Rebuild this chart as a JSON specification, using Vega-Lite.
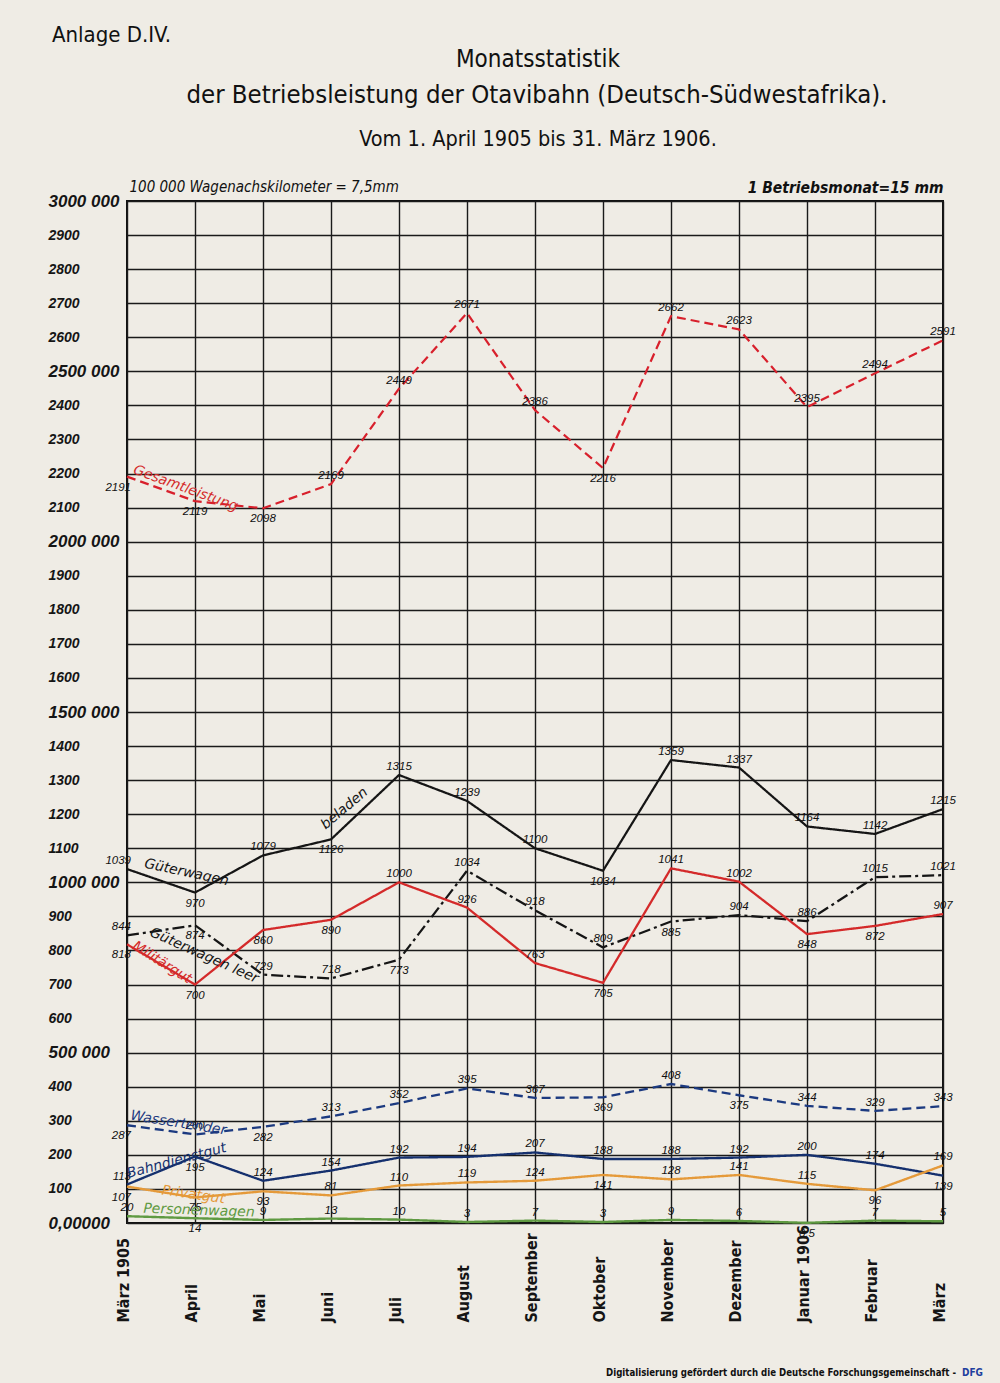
{
  "$schema": "https://vega.github.io/schema/vega-lite/v6.json",
  "width": 816,
  "height": 1022,
  "autosize": {"type": "none"},
  "padding": {"left": 127, "top": 201, "right": 57, "bottom": 160},
  "background": "#efece5",
  "config": {
    "view": {"stroke": "#111111", "strokeWidth": 2},
    "font": "Liberation Sans"
  },
  "data": {
    "values": [
      {"month": "März 1905", "Gesamtleistung": 2191, "Güterwagen beladen": 1039, "Güterwagen leer": 844, "Militärgut": 818, "Wassertender": 287, "Bahndienstgut": 113, "Privatgut": 107, "Personenwagen": 20},
      {"month": "April", "Gesamtleistung": 2119, "Güterwagen beladen": 970, "Güterwagen leer": 874, "Militärgut": 700, "Wassertender": 260, "Bahndienstgut": 195, "Privatgut": 75, "Personenwagen": 14},
      {"month": "Mai", "Gesamtleistung": 2098, "Güterwagen beladen": 1079, "Güterwagen leer": 729, "Militärgut": 860, "Wassertender": 282, "Bahndienstgut": 124, "Privatgut": 93, "Personenwagen": 9},
      {"month": "Juni", "Gesamtleistung": 2169, "Güterwagen beladen": 1126, "Güterwagen leer": 718, "Militärgut": 890, "Wassertender": 313, "Bahndienstgut": 154, "Privatgut": 81, "Personenwagen": 13},
      {"month": "Juli", "Gesamtleistung": 2449, "Güterwagen beladen": 1315, "Güterwagen leer": 773, "Militärgut": 1000, "Wassertender": 352, "Bahndienstgut": 192, "Privatgut": 110, "Personenwagen": 10},
      {"month": "August", "Gesamtleistung": 2671, "Güterwagen beladen": 1239, "Güterwagen leer": 1034, "Militärgut": 926, "Wassertender": 395, "Bahndienstgut": 194, "Privatgut": 119, "Personenwagen": 3},
      {"month": "September", "Gesamtleistung": 2386, "Güterwagen beladen": 1100, "Güterwagen leer": 918, "Militärgut": 763, "Wassertender": 367, "Bahndienstgut": 207, "Privatgut": 124, "Personenwagen": 7},
      {"month": "Oktober", "Gesamtleistung": 2216, "Güterwagen beladen": 1034, "Güterwagen leer": 809, "Militärgut": 705, "Wassertender": 369, "Bahndienstgut": 188, "Privatgut": 141, "Personenwagen": 3},
      {"month": "November", "Gesamtleistung": 2662, "Güterwagen beladen": 1359, "Güterwagen leer": 885, "Militärgut": 1041, "Wassertender": 408, "Bahndienstgut": 188, "Privatgut": 128, "Personenwagen": 9},
      {"month": "Dezember", "Gesamtleistung": 2623, "Güterwagen beladen": 1337, "Güterwagen leer": 904, "Militärgut": 1002, "Wassertender": 375, "Bahndienstgut": 192, "Privatgut": 141, "Personenwagen": 6},
      {"month": "Januar 1906", "Gesamtleistung": 2395, "Güterwagen beladen": 1164, "Güterwagen leer": 886, "Militärgut": 848, "Wassertender": 344, "Bahndienstgut": 200, "Privatgut": 115, "Personenwagen": 0.5},
      {"month": "Februar", "Gesamtleistung": 2494, "Güterwagen beladen": 1142, "Güterwagen leer": 1015, "Militärgut": 872, "Wassertender": 329, "Bahndienstgut": 174, "Privatgut": 96, "Personenwagen": 7},
      {"month": "März", "Gesamtleistung": 2591, "Güterwagen beladen": 1215, "Güterwagen leer": 1021, "Militärgut": 907, "Wassertender": 343, "Bahndienstgut": 139, "Privatgut": 169, "Personenwagen": 5}
    ]
  },
  "transform": [
    {"fold": ["Gesamtleistung", "Güterwagen beladen", "Güterwagen leer", "Militärgut", "Wassertender", "Bahndienstgut", "Privatgut", "Personenwagen"], "as": ["series", "value"]},
    {"calculate": "indexof(['Gesamtleistung|März 1905','Gesamtleistung|April','Gesamtleistung|Mai','Gesamtleistung|Oktober','Güterwagen beladen|April','Güterwagen beladen|Juni','Güterwagen beladen|Oktober','Güterwagen leer|April','Güterwagen leer|Juli','Güterwagen leer|November','Militärgut|März 1905','Militärgut|April','Militärgut|Mai','Militärgut|Juni','Militärgut|Oktober','Militärgut|Januar 1906','Militärgut|Februar','Wassertender|März 1905','Wassertender|Mai','Wassertender|Oktober','Wassertender|Dezember','Bahndienstgut|April','Bahndienstgut|März','Privatgut|März 1905','Privatgut|April','Privatgut|Mai','Privatgut|Oktober','Privatgut|Februar','Personenwagen|April','Personenwagen|Januar 1906'], datum.series + '|' + datum.month) >= 0", "as": "below"},
    {"calculate": "datum.month == 'März 1905' && datum.series != 'Personenwagen'", "as": "first"},
    {"calculate": "datum.month == 'April' && datum.series == 'Gesamtleistung'", "as": "one"}
  ],
  "encoding": {
    "x": {
      "field": "month",
      "type": "ordinal",
      "sort": ["März 1905", "April", "Mai", "Juni", "Juli", "August", "September", "Oktober", "November", "Dezember", "Januar 1906", "Februar", "März"],
      "scale": {"type": "point", "padding": 0},
      "axis": {
        "orient": "bottom",
        "domain": false,
        "ticks": false,
        "grid": true,
        "gridColor": "#1a1a1a",
        "gridWidth": 1.4,
        "labelAngle": -90,
        "labelAlign": "left",
        "labelBaseline": "middle",
        "labelPadding": 99,
        "labelOffset": -4,
        "labelFont": "DejaVu Sans Condensed, Liberation Sans",
        "labelFontWeight": "bold",
        "labelFontSize": 16,
        "labelColor": "#151515",
        "title": "1 Betriebsmonat=15 mm",
        "titleX": 816,
        "titleY": -1028,
        "titleAlign": "right",
        "titleBaseline": "bottom",
        "titleAngle": 0,
        "titleFont": "DejaVu Sans Condensed, Liberation Sans",
        "titleFontStyle": "italic",
        "titleFontWeight": "bold",
        "titleFontSize": 15.5,
        "titleColor": "#111111"
      }
    },
    "y": {
      "field": "value",
      "type": "quantitative",
      "scale": {"domain": [0, 3000], "nice": false},
      "axis": {
        "values": [0, 100, 200, 300, 400, 500, 600, 700, 800, 900, 1000, 1100, 1200, 1300, 1400, 1500, 1600, 1700, 1800, 1900, 2000, 2100, 2200, 2300, 2400, 2500, 2600, 2700, 2800, 2900, 3000],
        "domain": false,
        "ticks": false,
        "grid": true,
        "gridColor": "#1a1a1a",
        "gridWidth": 1.4,
        "labelAlign": "left",
        "labelBaseline": "middle",
        "labelPadding": 79,
        "labelExpr": "datum.value == 0 ? '0,00000' : (datum.value % 500 == 0 ? datum.value + ' 000' : '' + datum.value)",
        "labelFontSize": {"condition": {"test": "datum.value % 500 == 0", "value": 17}, "value": 14},
        "labelFontStyle": "italic",
        "labelFontWeight": "bold",
        "labelColor": "#151515",
        "title": "100 000 Wagenachskilometer = 7,5mm",
        "titleAngle": 0,
        "titleX": 2,
        "titleY": -7,
        "titleAlign": "left",
        "titleBaseline": "bottom",
        "titleFont": "DejaVu Sans Condensed, Liberation Sans",
        "titleFontStyle": "italic",
        "titleFontWeight": "normal",
        "titleFontSize": 15,
        "titleColor": "#111111"
      }
    }
  },
  "layer": [
    {
      "mark": {"type": "line", "strokeJoin": "round"},
      "encoding": {
        "color": {
          "field": "series",
          "type": "nominal",
          "scale": {
            "domain": ["Gesamtleistung", "Güterwagen beladen", "Güterwagen leer", "Militärgut", "Wassertender", "Bahndienstgut", "Privatgut", "Personenwagen"],
            "range": ["#d8202c", "#151515", "#151515", "#d42a2a", "#1c3a80", "#15306e", "#e59a3a", "#5f9a42"]
          },
          "legend": null
        },
        "strokeDash": {
          "field": "series",
          "type": "nominal",
          "scale": {
            "domain": ["Gesamtleistung", "Güterwagen beladen", "Güterwagen leer", "Militärgut", "Wassertender", "Bahndienstgut", "Privatgut", "Personenwagen"],
            "range": [[9, 5], [1, 0], [12, 4, 3, 4], [1, 0], [9, 5], [1, 0], [1, 0], [1, 0]]
          },
          "legend": null
        },
        "strokeWidth": {
          "field": "series",
          "type": "nominal",
          "scale": {
            "domain": ["Gesamtleistung", "Güterwagen beladen", "Güterwagen leer", "Militärgut", "Wassertender", "Bahndienstgut", "Privatgut", "Personenwagen"],
            "range": [2.2, 2.4, 2.4, 2, 2.2, 2.6, 3, 2]
          },
          "legend": null
        }
      }
    },
    {
      "transform": [{"filter": "!datum.below && !datum.first"}],
      "mark": {"type": "text", "dy": -8, "fontSize": 11.5, "fontStyle": "italic", "color": "#111111", "font": "Liberation Sans"},
      "encoding": {"text": {"field": "value", "type": "quantitative", "format": "~g"}}
    },
    {
      "transform": [{"filter": "datum.below && !datum.first"}],
      "mark": {"type": "text", "dy": 11, "fontSize": 11.5, "fontStyle": "italic", "color": "#111111", "font": "Liberation Sans"},
      "encoding": {"text": {"field": "value", "type": "quantitative", "format": "~g"}}
    },
    {
      "transform": [{"filter": "!datum.below && datum.first"}],
      "mark": {"type": "text", "align": "right", "dx": 4, "dy": -8, "fontSize": 11.5, "fontStyle": "italic", "color": "#111111", "font": "Liberation Sans"},
      "encoding": {"text": {"field": "value", "type": "quantitative", "format": "~g"}}
    },
    {
      "transform": [{"filter": "datum.below && datum.first"}],
      "mark": {"type": "text", "align": "right", "dx": 4, "dy": 11, "fontSize": 11.5, "fontStyle": "italic", "color": "#111111", "font": "Liberation Sans"},
      "encoding": {"text": {"field": "value", "type": "quantitative", "format": "~g"}}
    },
    {
      "transform": [{"filter": "datum.one"}],
      "mark": {"type": "text", "align": "left", "baseline": "bottom", "angle": 20, "dx": 4, "dy": -2, "fontSize": 14, "fontStyle": "italic", "color": "#d42a2a", "font": "DejaVu Sans"},
      "encoding": {"x": {"datum": "März 1905"}, "y": {"datum": 2191}, "text": {"value": "Gesamtleistung"}}
    },
    {
      "transform": [{"filter": "datum.one"}],
      "mark": {"type": "text", "align": "left", "baseline": "bottom", "angle": 12, "dx": 16, "dy": -2, "fontSize": 14, "fontStyle": "italic", "color": "#151515", "font": "DejaVu Sans"},
      "encoding": {"x": {"datum": "März 1905"}, "y": {"datum": 1039}, "text": {"value": "Güterwagen"}}
    },
    {
      "transform": [{"filter": "datum.one"}],
      "mark": {"type": "text", "align": "left", "baseline": "bottom", "angle": -40, "dx": 2, "dy": -8, "fontSize": 14, "fontStyle": "italic", "color": "#151515", "font": "DejaVu Sans"},
      "encoding": {"x": {"datum": "Juni"}, "y": {"datum": 1126}, "text": {"value": "beladen"}}
    },
    {
      "transform": [{"filter": "datum.one"}],
      "mark": {"type": "text", "align": "left", "baseline": "bottom", "angle": 24, "dx": 20, "dy": -6, "fontSize": 14, "fontStyle": "italic", "color": "#151515", "font": "DejaVu Sans"},
      "encoding": {"x": {"datum": "März 1905"}, "y": {"datum": 844}, "text": {"value": "Güterwagen leer"}}
    },
    {
      "transform": [{"filter": "datum.one"}],
      "mark": {"type": "text", "align": "left", "baseline": "middle", "angle": 32, "dx": 6, "dy": -3, "fontSize": 14, "fontStyle": "italic", "color": "#d42a2a", "font": "DejaVu Sans"},
      "encoding": {"x": {"datum": "März 1905"}, "y": {"datum": 818}, "text": {"value": "Militärgut"}}
    },
    {
      "transform": [{"filter": "datum.one"}],
      "mark": {"type": "text", "align": "left", "baseline": "bottom", "angle": 9, "dx": 2, "dy": -3, "fontSize": 14, "fontStyle": "italic", "color": "#1c3a80", "font": "DejaVu Sans"},
      "encoding": {"x": {"datum": "März 1905"}, "y": {"datum": 287}, "text": {"value": "Wassertender"}}
    },
    {
      "transform": [{"filter": "datum.one"}],
      "mark": {"type": "text", "align": "left", "baseline": "bottom", "angle": -15, "dx": 3, "dy": -3, "fontSize": 14, "fontStyle": "italic", "color": "#15306e", "font": "DejaVu Sans"},
      "encoding": {"x": {"datum": "März 1905"}, "y": {"datum": 113}, "text": {"value": "Bahndienstgut"}}
    },
    {
      "transform": [{"filter": "datum.one"}],
      "mark": {"type": "text", "align": "left", "baseline": "bottom", "angle": 8, "dx": 35, "dy": 6, "fontSize": 14, "fontStyle": "italic", "color": "#e59a3a", "font": "DejaVu Sans"},
      "encoding": {"x": {"datum": "März 1905"}, "y": {"datum": 107}, "text": {"value": "Privatgut"}}
    },
    {
      "transform": [{"filter": "datum.one"}],
      "mark": {"type": "text", "align": "left", "baseline": "bottom", "angle": 2, "dx": 16, "dy": -1, "fontSize": 14, "fontStyle": "italic", "color": "#5f9a42", "font": "DejaVu Sans"},
      "encoding": {"x": {"datum": "März 1905"}, "y": {"datum": 20}, "text": {"value": "Personenwagen"}}
    },
    {
      "transform": [{"filter": "datum.one"}],
      "mark": {"type": "text", "align": "left", "baseline": "alphabetic", "dx": -75, "dy": -159, "fontSize": 22, "color": "#111111", "font": "DejaVu Sans Condensed, Liberation Sans"},
      "encoding": {"x": {"datum": "März 1905"}, "y": {"datum": 3000}, "text": {"value": "Anlage D.IV."}}
    },
    {
      "transform": [{"filter": "datum.one"}],
      "mark": {"type": "text", "align": "center", "baseline": "alphabetic", "dx": 3, "dy": -134, "fontSize": 24, "color": "#111111", "font": "DejaVu Sans Condensed, Liberation Sans"},
      "encoding": {"x": {"datum": "September"}, "y": {"datum": 3000}, "text": {"value": "Monatsstatistik"}}
    },
    {
      "transform": [{"filter": "datum.one"}],
      "mark": {"type": "text", "align": "center", "baseline": "alphabetic", "dx": 2, "dy": -98, "fontSize": 25.5, "color": "#111111", "font": "DejaVu Sans Condensed, Liberation Sans"},
      "encoding": {"x": {"datum": "September"}, "y": {"datum": 3000}, "text": {"value": "der Betriebsleistung der Otavibahn (Deutsch-Südwestafrika)."}}
    },
    {
      "transform": [{"filter": "datum.one"}],
      "mark": {"type": "text", "align": "center", "baseline": "alphabetic", "dx": 3, "dy": -55, "fontSize": 21.5, "color": "#111111", "font": "DejaVu Sans Condensed, Liberation Sans"},
      "encoding": {"x": {"datum": "September"}, "y": {"datum": 3000}, "text": {"value": "Vom 1. April 1905 bis 31. März 1906."}}
    },
    {
      "transform": [{"filter": "datum.one"}],
      "mark": {"type": "text", "align": "right", "baseline": "alphabetic", "dx": 13, "dy": 153, "fontSize": 9.6, "fontWeight": "bold", "color": "#111111", "font": "DejaVu Sans Condensed, Liberation Sans"},
      "encoding": {"x": {"datum": "März"}, "y": {"datum": 0}, "text": {"value": "Digitalisierung gefördert durch die Deutsche Forschungsgemeinschaft -"}}
    },
    {
      "transform": [{"filter": "datum.one"}],
      "mark": {"type": "text", "align": "left", "baseline": "alphabetic", "dx": 19, "dy": 153, "fontSize": 10, "fontWeight": "bold", "color": "#1f3f9e", "font": "DejaVu Sans Condensed, Liberation Sans"},
      "encoding": {"x": {"datum": "März"}, "y": {"datum": 0}, "text": {"value": "DFG"}}
    }
  ]
}
